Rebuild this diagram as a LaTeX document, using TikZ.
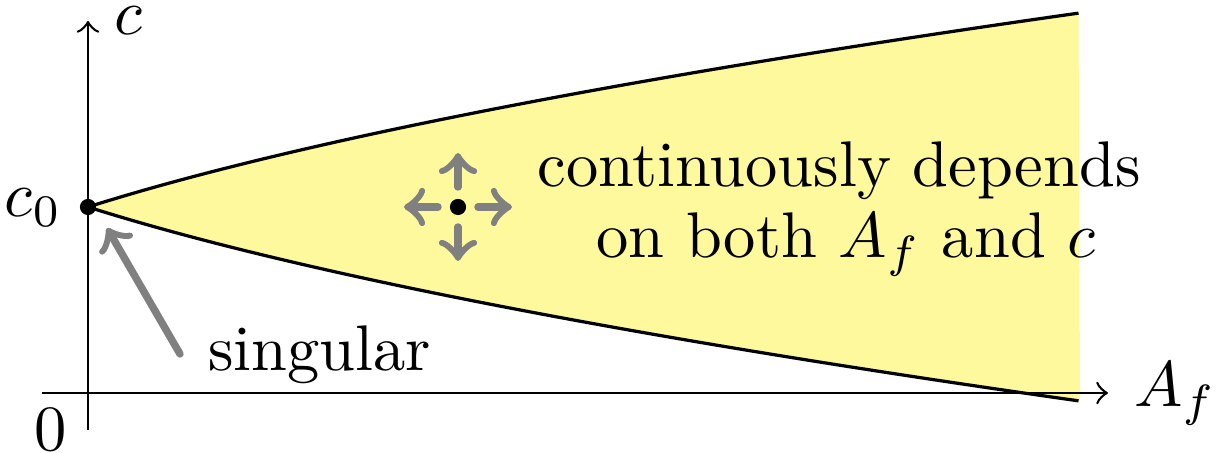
\documentclass[tikz,border=0pt]{standalone}
\definecolor{regionyellow}{RGB}{255,249,157}
\definecolor{arrowgray}{RGB}{128,128,128}
\tikzset{
  axis/.style={line width=0.4pt,->},
  boundary/.style={line width=0.5pt},
  grayarrow/.style={draw=arrowgray,line width=1.15pt,line cap=round,->},
  lbl/.style={inner sep=0pt,anchor=base},
  dotmark/.style={circle,fill=black,inner sep=0pt,minimum size=2.5pt}
}
\begin{document}
\begin{tikzpicture}[x=0.155pt,y=-0.155pt]
\useasboundingbox (0,0) rectangle (1217,453);
% coordinates
\coordinate (xstart) at (42,393);
\coordinate (xend) at (1108,393);
\coordinate (ystart) at (88,430);
\coordinate (yend) at (88,21);
% region
\fill[regionyellow] plot[domain=0:1,samples=100] ({88+992*\x},{207-157*(sqrt(1+4*\x)-1)})
  -- plot[domain=1:0,samples=100] ({88+992*\x},{207+157*(sqrt(1+4*\x)-1)}) -- cycle;
\draw[boundary] plot[domain=0:1,samples=100] ({88+992*\x},{207-157*(sqrt(1+4*\x)-1)});
\draw[boundary] plot[domain=0:1,samples=100] ({88+992*\x},{207+157*(sqrt(1+4*\x)-1)});
% axes
\draw[axis] (xstart) -- (xend);
\draw[axis] (ystart) -- (yend);
\node[lbl,anchor=base west] (clab) at (113,35) {$c$};
\node[lbl,anchor=base west] (alab) at (1133,407) {$A_f$};
\node[lbl,anchor=base west] (zero) at (33,451) {$0$};
\node[lbl,anchor=base east] (c0lab) at (63,217) {$c_0$};
% singular point
\node[dotmark] (c0) at (88,207) {};
\coordinate (sgtail) at (180,354);
\coordinate (sgtip) at (107,228);
\draw[grayarrow] (sgtail) -- (sgtip);
\node[lbl,anchor=base west] (sing) at (207,371) {singular};
% generic point with four arrows
\node[dotmark] (p) at (458,207) {};
\coordinate (pr0) at (478,207); \coordinate (pr1) at (512,207);
\coordinate (pl0) at (438,207); \coordinate (pl1) at (404,207);
\coordinate (pu0) at (458,187); \coordinate (pu1) at (458,153);
\coordinate (pd0) at (458,227); \coordinate (pd1) at (458,261);
\draw[grayarrow] (pr0) -- (pr1);
\draw[grayarrow] (pl0) -- (pl1);
\draw[grayarrow] (pu0) -- (pu1);
\draw[grayarrow] (pd0) -- (pd1);
% text
\node[lbl] (t1) at (839,187) {continuously depends};
\node[lbl] (t2) at (846,258) {on both $A_f$ and $c$};
\end{tikzpicture}
\end{document}
